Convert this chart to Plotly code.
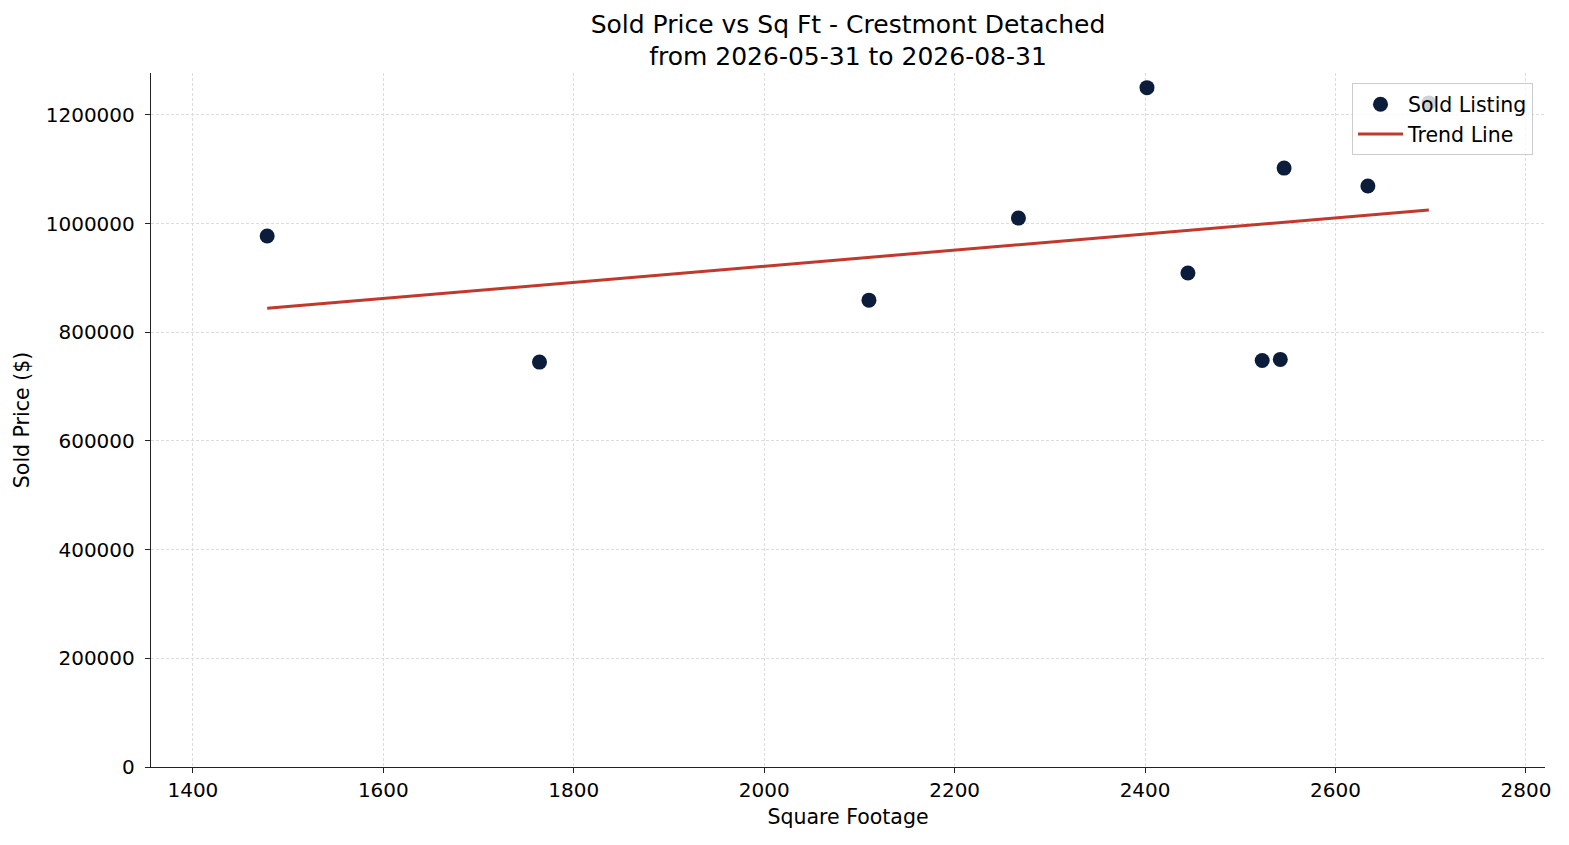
import numpy as np
import plotly.graph_objects as go

# sold listings
sqft = [1478, 1764, 2110, 2267, 2402, 2445, 2523, 2542, 2546, 2634, 2698]
sold_price = [977000, 745000, 859000, 1010000, 1250000, 909000, 748000, 750000, 1102000, 1069000, 1222000]

x_ticks = [1400, 1600, 1800, 2000, 2200, 2400, 2600, 2800]
y_ticks = [0, 200000, 400000, 600000, 800000, 1000000, 1200000]

# least squares trend line across the sqft range
slope, intercept = np.polyfit(sqft, sold_price, 1)
trend_x = [min(sqft), max(sqft)]
trend_y = [slope * v + intercept for v in trend_x]

font = "DejaVu Sans, Liberation Sans, sans-serif"
grid = "#dcdcdc"

fig = go.Figure()
fig.add_trace(go.Scatter(
    x=sqft, y=sold_price, mode="markers", name="Sold Listing",
    marker=dict(size=15, color="#0b1d3a"),
))
fig.add_trace(go.Scatter(
    x=trend_x, y=trend_y, mode="lines", name="Trend Line",
    line=dict(color="#c0392b", width=3),
))

# page body adds ~8px offset, margins compensate
fig.update_layout(
    width=1569, height=845,
    margin=dict(l=143, r=32, t=65, b=86),
    paper_bgcolor="white", plot_bgcolor="white",
    font=dict(family=font, size=20, color="black"),
    title=dict(
        text="Sold Price vs Sq Ft - Crestmont Detached<br>from 2026-05-31 to 2026-08-31",
        x=0.5, xref="paper", xanchor="center", yref="container", y=0.971, yanchor="top",
        font=dict(size=25),
    ),
    legend=dict(
        x=0.9914, y=0.985, xanchor="right", yanchor="top",
        bgcolor="rgba(255,255,255,0.8)", bordercolor="#cccccc", borderwidth=1,
        font=dict(size=20.5), tracegroupgap=0, itemwidth=45,
    ),
    showlegend=True,
)

fig.update_xaxes(
    range=[1356, 2820], tickvals=x_ticks,
    title=dict(text="Square Footage", font=dict(size=20.5), standoff=8),
    showline=True, linecolor="#222222", linewidth=1.4,
    ticks="outside", ticklen=5, tickcolor="#222222",
    showgrid=True, gridcolor=grid, griddash="3px,2px", gridwidth=0.8,
    zeroline=False, tickfont=dict(size=20),
)
fig.update_yaxes(
    range=[0, 1277000], tickvals=y_ticks, tickformat="d",
    title=dict(text="Sold Price ($)", font=dict(size=20.5), standoff=10),
    showline=True, linecolor="#222222", linewidth=1.4,
    ticks="outside", ticklen=5, tickcolor="#222222", ticklabelstandoff=6,
    showgrid=True, gridcolor=grid, griddash="3px,2px", gridwidth=0.8,
    zeroline=False, tickfont=dict(size=20),
)

fig.write_html("out.html")
